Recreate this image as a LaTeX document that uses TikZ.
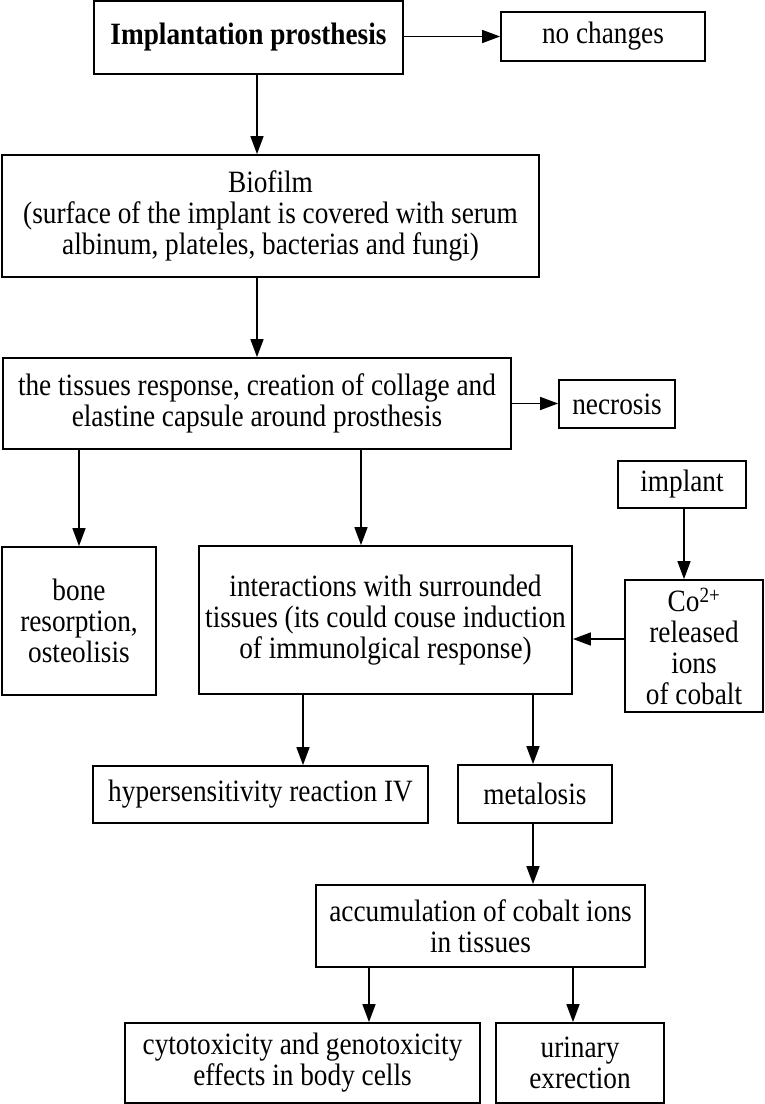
\documentclass[tikz,border=0pt]{standalone}
\usepackage{fontspec}
\setmainfont{Liberation Serif}[FakeStretch=0.88]
\usetikzlibrary{arrows.meta}
\begin{document}
\begin{tikzpicture}[x=1pt,y=-1pt,
  box/.style={draw, line width=1.8pt, align=center, inner sep=0pt,
    font=\fontsize{31}{31}\selectfont},
  arr/.style={line width=1.6pt, -{Triangle[length=18pt,width=13pt]}}]
\useasboundingbox[fill=white] (0,0) rectangle (765,1104);
% nodes
\node[box, minimum width=309pt, minimum height=73pt] (imp) at (248.5,37.5) {\textbf{Implantation prosthesis}};
\node[box, minimum width=204pt, minimum height=49pt] (nochg) at (603,36.5) {no changes};
\node[box, minimum width=537pt, minimum height=122pt] (bio) at (270.5,216) {Biofilm\\(surface of the implant is covered with serum\\albinum, plateles, bacterias and fungi)};
\node[box, minimum width=508pt, minimum height=91pt] (tis) at (257,403.5) {the tissues response, creation of collage and\\elastine capsule around prosthesis};
\node[box, minimum width=116pt, minimum height=48pt] (nec) at (617,404) {necrosis};
\node[box, minimum width=128pt, minimum height=47pt] (impl) at (682,484.5) {implant};
\node[box, minimum width=154pt, minimum height=148pt] (bone) at (79,621) {bone\\resorption,\\osteolisis};
\node[box, minimum width=373pt, minimum height=148pt] (inter) at (385.5,620) {interactions with surrounded\\tissues (its could couse induction\\of immunolgical response)};
\node[box, minimum width=138pt, minimum height=132pt] (co) at (694,646) {Co\textsuperscript{2+}\\released\\ions\\of cobalt};
\node[box, minimum width=335pt, minimum height=57pt] (hyp) at (260.5,794.5) {hypersensitivity reaction IV};
\node[box, minimum width=154pt, minimum height=58pt] (met) at (535,794) {metalosis};
\node[box, minimum width=329pt, minimum height=82pt] (acc) at (480.5,926) {accumulation of cobalt ions\\in tissues};
\node[box, minimum width=355pt, minimum height=80pt] (cyt) at (302.5,1063) {cytotoxicity and genotoxicity\\effects in body cells};
\node[box, minimum width=168pt, minimum height=80pt] (uri) at (580,1063) {urinary\\exrection};
% helper coordinates
\coordinate (xa) at (257,0);
\coordinate (xb) at (361,0);
\coordinate (xc) at (684,0);
\coordinate (yc) at (0,639);
\coordinate (xd) at (303,0);
\coordinate (xe) at (533,0);
\coordinate (xf) at (369,0);
\coordinate (xg) at (573,0);
% connectors
\draw[arr] (imp.east |- nochg.west) -- (nochg.west);
\draw[arr] (imp.south -| xa) -- (bio.north -| xa);
\draw[arr] (bio.south -| xa) -- (tis.north -| xa);
\draw[arr] (tis.east) -- (tis.east -| nec.west);
\draw[arr] (tis.south -| bone.north) -- (bone.north);
\draw[arr] (tis.south -| xb) -- (inter.north -| xb);
\draw[arr] (impl.south -| xc) -- (co.north -| xc);
\draw[arr] (co.west |- yc) -- (inter.east |- yc);
\draw[arr] (inter.south -| xd) -- (hyp.north -| xd);
\draw[arr] (inter.south -| xe) -- (met.north -| xe);
\draw[arr] (met.south -| xe) -- (acc.north -| xe);
\draw[arr] (acc.south -| xf) -- (cyt.north -| xf);
\draw[arr] (acc.south -| xg) -- (uri.north -| xg);
\end{tikzpicture}
\end{document}
